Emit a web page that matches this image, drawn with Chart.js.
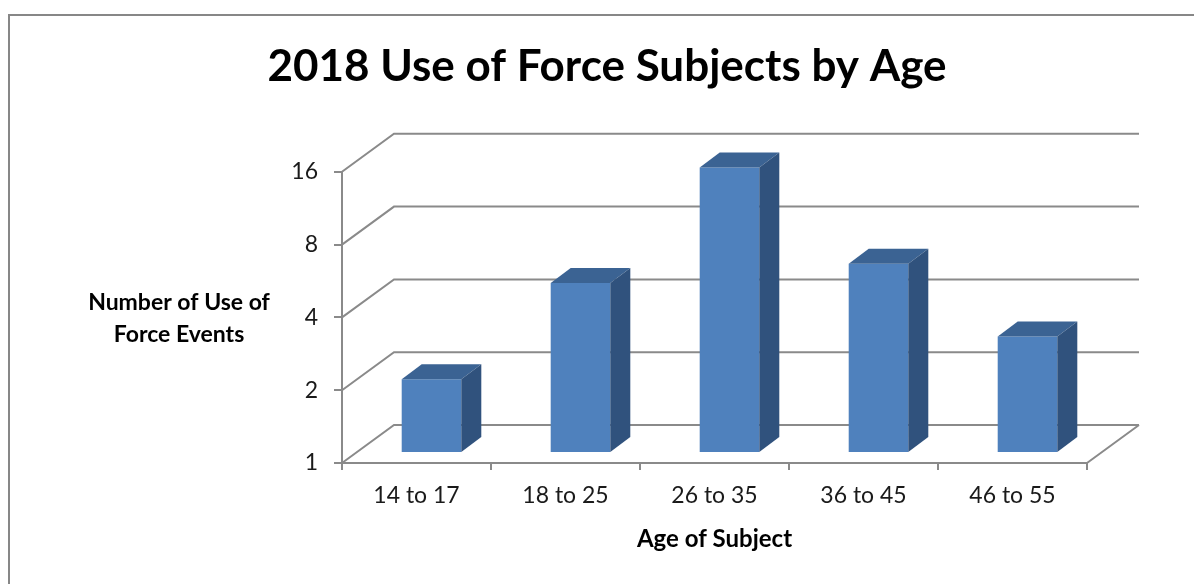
<!DOCTYPE html>
<html>
<head>
<meta charset="utf-8">
<title>2018 Use of Force Subjects by Age</title>
<script src="https://cdn.jsdelivr.net/npm/chart.js"></script>
<style>
  html, body { margin: 0; padding: 0; background: #fff; overflow: hidden; }
  #wrap { position: relative; width: 1194px; height: 584px; }
</style>
</head>
<body>
<div id="wrap"><canvas id="forceChart" width="1194" height="584"></canvas></div>
<script>
// Data
const ageGroups = ['14 to 17', '18 to 25', '26 to 35', '36 to 45', '46 to 55'];
const eventCounts = [2, 5, 15, 6, 3];
const countTicks = [1, 2, 4, 8, 16];
const yTitleLines = ['Number of Use of', 'Force Events'];

const FONT = 'Lato, "Open Sans", sans-serif';
const GRID = '#8a8a8a';
// offsets used to fake the 3D box (back wall, bar position, bar depth)
const WALL = { dx: 52, dy: -38 };
const BAR_SHIFT = { dx: 15, dy: -11 };
const BAR_DEPTH = { dx: 20, dy: -15 };
const FACE = { front: '#4f81bd', top: '#3b6393', side: '#30527d' };

function fillPoly(ctx, pts, color) {
  ctx.beginPath();
  pts.forEach(([x, y], i) => (i ? ctx.lineTo(x, y) : ctx.moveTo(x, y)));
  ctx.closePath();
  ctx.fillStyle = color;
  ctx.fill();
}

// Frame, 3D walls/floor, bar depth faces and the horizontal y title
const box3d = {
  id: 'box3d',
  beforeDraw(chart) {
    const ctx = chart.ctx;
    ctx.save();
    ctx.strokeStyle = '#878787';
    ctx.lineWidth = 2;
    ctx.strokeRect(9, 15, 1400, 800);
    ctx.restore();
  },
  beforeDatasetsDraw(chart) {
    const { ctx, chartArea: a, scales: { y } } = chart;
    ctx.save();
    ctx.strokeStyle = GRID;
    ctx.lineWidth = 2;
    ctx.beginPath();
    countTicks.forEach(v => {
      const py = y.getPixelForValue(v);
      ctx.moveTo(a.left, py);
      ctx.lineTo(a.left + WALL.dx, py + WALL.dy);
      ctx.lineTo(a.right + WALL.dx, py + WALL.dy);
    });
    // right edge of the floor
    ctx.moveTo(a.right, a.bottom);
    ctx.lineTo(a.right + WALL.dx, a.bottom + WALL.dy);
    ctx.stroke();
    ctx.restore();

    // bars stand part way back in the box
    ctx.save();
    ctx.translate(BAR_SHIFT.dx, BAR_SHIFT.dy);
  },
  afterDatasetsDraw(chart) {
    const ctx = chart.ctx;
    ctx.restore();
    chart.getDatasetMeta(0).data.forEach(bar => {
      const { x, y, base, width } = bar.getProps(['x', 'y', 'base', 'width'], true);
      const l = x - width / 2 + BAR_SHIFT.dx;
      const r = x + width / 2 + BAR_SHIFT.dx;
      const t = y + BAR_SHIFT.dy;
      const b = base + BAR_SHIFT.dy;
      fillPoly(ctx, [[l, t], [r, t], [r + BAR_DEPTH.dx, t + BAR_DEPTH.dy], [l + BAR_DEPTH.dx, t + BAR_DEPTH.dy]], FACE.top);
      fillPoly(ctx, [[r, t], [r + BAR_DEPTH.dx, t + BAR_DEPTH.dy], [r + BAR_DEPTH.dx, b + BAR_DEPTH.dy], [r, b]], FACE.side);
    });
  },
  afterDraw(chart) {
    const ctx = chart.ctx;
    ctx.save();
    ctx.fillStyle = '#000';
    ctx.font = 'bold 23px ' + FONT;
    ctx.textAlign = 'center';
    ctx.textBaseline = 'middle';
    yTitleLines.forEach((line, i) => ctx.fillText(line, 179, 303 + i * 32));
    ctx.restore();
  }
};

new Chart(document.getElementById('forceChart'), {
  type: 'bar',
  data: {
    labels: ageGroups,
    datasets: [{
      data: eventCounts,
      backgroundColor: FACE.front,
      borderWidth: 0,
      barPercentage: 0.4,
      categoryPercentage: 1,
      clip: false
    }]
  },
  options: {
    responsive: false,
    animation: false,
    layout: { padding: { left: 127, right: 107, top: 0, bottom: 0 } },
    plugins: {
      legend: { display: false },
      tooltip: { enabled: false },
      title: {
        display: true,
        text: '2018 Use of Force Subjects by Age',
        color: '#000',
        font: { family: FONT, size: 44, weight: 'bold' },
        padding: { top: 40, bottom: 79 }
      }
    },
    scales: {
      x: {
        grid: { display: true, drawOnChartArea: false, drawTicks: true, tickLength: 7, color: GRID, lineWidth: 2, offset: true },
        border: { display: true, color: GRID, width: 2 },
        ticks: { color: '#1a1a1a', font: { family: FONT, size: 23 }, padding: 12 },
        title: {
          display: true,
          text: 'Age of Subject',
          color: '#000',
          font: { family: FONT, size: 24, weight: 'bold' },
          padding: { top: 6, bottom: 30 }
        },
        afterFit(s) { s.height = 121; }
      },
      y: {
        type: 'logarithmic',
        min: 1,
        max: 16,
        afterBuildTicks(s) { s.ticks = countTicks.map(v => ({ value: v })); },
        grid: { display: true, drawOnChartArea: false, drawTicks: true, tickLength: 8, color: GRID, lineWidth: 2 },
        border: { display: true, color: GRID, width: 2 },
        ticks: { color: '#1a1a1a', font: { family: FONT, size: 23 }, padding: 16, callback: v => String(v) },
        afterFit(s) { s.width = 215; }
      }
    }
  },
  plugins: [box3d]
});
</script>
</body>
</html>
